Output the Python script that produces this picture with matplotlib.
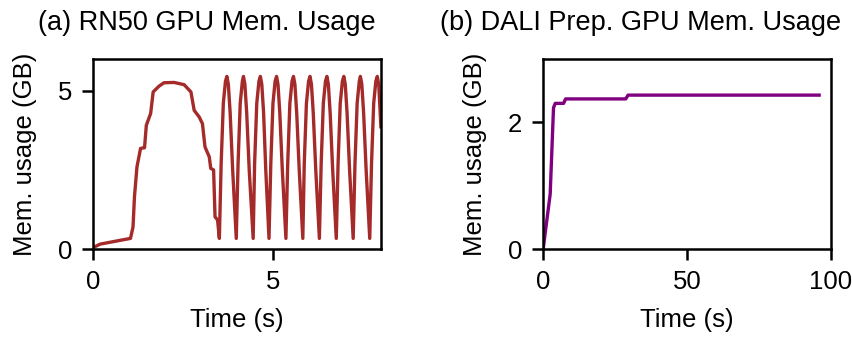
import matplotlib
matplotlib.use('Agg')
import matplotlib.pyplot as plt

plt.rcParams['font.family'] = ['Liberation Sans', 'DejaVu Sans']

# (a) RN50 GPU memory usage
rn50_t = [0.0, 0.2, 1.04, 1.11, 1.15, 1.22, 1.32, 1.43, 1.48, 1.60, 1.67, 1.83, 1.97,
          2.25, 2.53, 2.72, 2.81, 2.95, 3.04, 3.11, 3.23, 3.27, 3.35, 3.39, 3.46, 3.51,
          3.56, 3.62, 3.68, 3.72, 3.76, 3.81, 3.88, 3.98,
          4.03, 4.09, 4.15, 4.18, 4.22, 4.27, 4.34, 4.45,
          4.49, 4.55, 4.61, 4.65, 4.69, 4.74, 4.80, 4.89,
          4.94, 5.00, 5.06, 5.10, 5.14, 5.19, 5.26, 5.36,
          5.41, 5.47, 5.53, 5.57, 5.61, 5.66, 5.73, 5.83,
          5.87, 5.93, 5.99, 6.03, 6.07, 6.12, 6.19, 6.29,
          6.34, 6.40, 6.46, 6.50, 6.54, 6.59, 6.66, 6.76,
          6.81, 6.87, 6.93, 6.97, 7.01, 7.06, 7.13, 7.23,
          7.28, 7.34, 7.40, 7.43, 7.47, 7.52, 7.59, 7.69,
          7.74, 7.80, 7.86, 7.90, 7.94, 8.0]
rn50_mem = [0.05, 0.16, 0.34, 0.70, 1.65, 2.6, 3.18, 3.2, 3.91, 4.28, 4.96, 5.14, 5.25,
            5.26, 5.19, 4.96, 4.38, 4.17, 3.96, 3.23, 2.91, 2.55, 2.5, 1.02, 0.92, 0.34,
            2.7, 4.6, 5.3, 5.45, 5.2, 4.3, 2.5, 0.34,
            2.7, 4.6, 5.3, 5.45, 5.2, 4.3, 2.5, 0.34,
            2.7, 4.6, 5.3, 5.45, 5.2, 4.3, 2.5, 0.34,
            2.7, 4.6, 5.3, 5.45, 5.2, 4.3, 2.5, 0.34,
            2.7, 4.6, 5.3, 5.45, 5.2, 4.3, 2.5, 0.34,
            2.7, 4.6, 5.3, 5.45, 5.2, 4.3, 2.5, 0.34,
            2.7, 4.6, 5.3, 5.45, 5.2, 4.3, 2.5, 0.34,
            2.7, 4.6, 5.3, 5.45, 5.2, 4.3, 2.5, 0.34,
            2.7, 4.6, 5.3, 5.45, 5.2, 4.3, 2.5, 0.34,
            2.7, 4.6, 5.3, 5.45, 5.2, 3.86]

# (b) DALI preprocessing GPU memory usage
dali_t = [0.0, 2.45, 3.6, 4.2, 7.1, 7.8, 28.7, 29.5, 95.9]
dali_mem = [0.0, 0.87, 2.23, 2.30, 2.30, 2.37, 2.37, 2.43, 2.43]

FS = 18.5

fig = plt.figure(figsize=(8.54, 3.39), dpi=100)
ax1 = fig.add_axes([0.109, 0.265, 0.337, 0.561])
ax2 = fig.add_axes([0.636, 0.265, 0.337, 0.561])

ax1.plot(rn50_t, rn50_mem, color='#a52a2a', lw=2.4)
ax1.set_xlim(0, 8)
ax1.set_ylim(0, 6)
ax1.set_xticks([0, 5])
ax1.set_yticks([0, 5])
ax1.set_title('(a) RN50 GPU Mem. Usage', fontsize=19.5, x=0.396, pad=21)

ax2.plot(dali_t, dali_mem, color='#800080', lw=2.4)
ax2.set_xlim(0, 100)
ax2.set_ylim(0, 3)
ax2.set_xticks([0, 50, 100])
ax2.set_yticks([0, 2])
ax2.set_title('(b) DALI Prep. GPU Mem. Usage', fontsize=19.5, x=0.34, pad=21)

for ax in (ax1, ax2):
    ax.set_xlabel('Time (s)', fontsize=FS, labelpad=10)
    ax.set_ylabel('Mem. usage (GB)', fontsize=FS, labelpad=15)
    ax.tick_params(labelsize=FS, width=1.8, length=8, pad=7)
    for s in ax.spines.values():
        s.set_linewidth(1.8)

fig.savefig('out.png', dpi=100)
